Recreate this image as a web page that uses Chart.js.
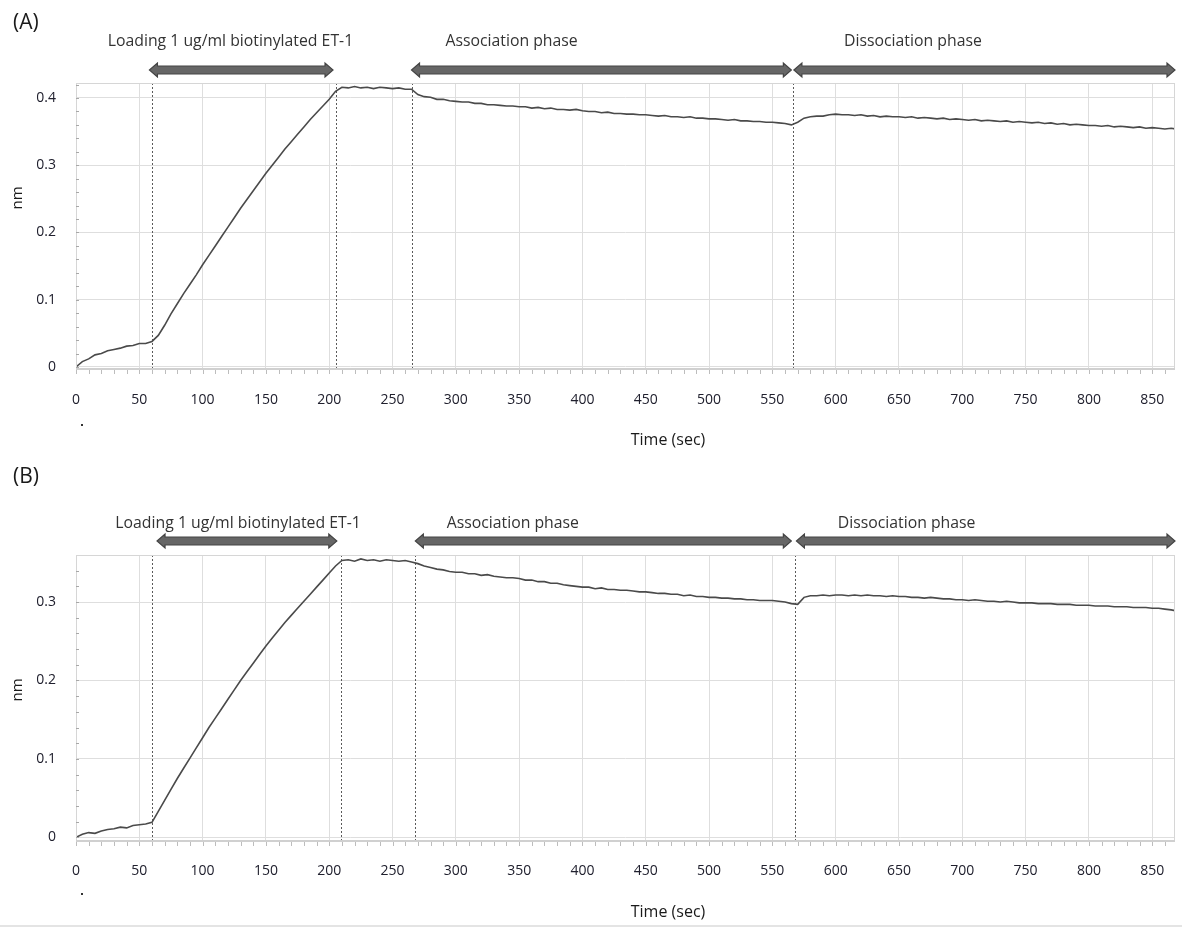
<!DOCTYPE html>
<html>
<head>
<meta charset="utf-8">
<script src="https://cdn.jsdelivr.net/npm/chart.js@4.4.1/dist/chart.umd.min.js"></script>
<style>
  html, body { margin: 0; padding: 0; background: #fff; }
  #page { position: relative; width: 1182px; height: 927px; overflow: hidden; }
  canvas { position: absolute; left: 0; }
  #chartA { top: 0; }
  #chartB { top: 463px; }
  #foot { position: absolute; left: 0; top: 925px; width: 1182px; height: 2px; background: #e4e4e4; }
</style>
</head>
<body>
<div id="page">
  <canvas id="chartA" width="1182" height="463"></canvas>
  <canvas id="chartB" width="1182" height="462"></canvas>
  <div id="foot"></div>
</div>
<script>
"use strict";

// time axis (sec), shared by both sensorgrams
const timeSec = [0,5,10,15,20,25,30,35,40,45,50,55,60,65,70,75,80,85,90,95,100,105,110,115,120,125,130,135,140,145,150,155,160,165,170,175,180,185,190,195,200,205,210,215,220,225,230,235,240,245,250,255,260,265,270,275,280,285,290,295,300,305,310,315,320,325,330,335,340,345,350,355,360,365,370,375,380,385,390,395,400,405,410,415,420,425,430,435,440,445,450,455,460,465,470,475,480,485,490,495,500,505,510,515,520,525,530,535,540,545,550,555,560,565,570,575,580,585,590,595,600,605,610,615,620,625,630,635,640,645,650,655,660,665,670,675,680,685,690,695,700,705,710,715,720,725,730,735,740,745,750,755,760,765,770,775,780,785,790,795,800,805,810,815,820,825,830,835,840,845,850,855,860,865,868];

// panel A response (nm)
const responseA = [
  0.000,0.008,0.012,0.018,0.020,0.024,0.026,0.028,0.031,0.032,0.035,0.035,0.038,
  0.047,0.062,0.079,0.094,0.109,0.123,0.137,0.152,0.166,0.180,0.194,0.208,0.222,0.236,0.249,0.262,0.275,0.288,
  0.300,0.312,0.324,0.335,0.346,0.357,0.368,0.378,0.388,0.398,0.410,
  0.416,0.415,0.417,0.415,0.416,0.414,0.416,0.415,0.414,0.415,0.413,0.413,
  0.405,0.402,0.401,0.398,0.398,0.396,0.395,0.394,0.394,0.392,0.392,0.390,0.390,0.389,0.388,0.388,
  0.387,0.387,0.385,0.386,0.384,0.385,0.383,0.383,0.382,0.383,0.381,0.380,0.380,0.378,0.379,0.377,
  0.377,0.376,0.376,0.375,0.375,0.374,0.373,0.374,0.372,0.372,0.371,0.372,0.370,0.370,0.369,0.369,
  0.368,0.367,0.368,0.366,0.366,0.365,0.365,0.364,0.364,0.363,0.362,0.360,
  0.364,0.370,0.372,0.373,0.373,0.375,0.376,0.375,0.375,0.374,0.375,0.373,0.374,0.372,0.373,0.372,
  0.372,0.371,0.372,0.370,0.371,0.370,0.369,0.370,0.368,0.369,0.368,0.367,0.368,0.366,0.367,0.366,
  0.365,0.366,0.364,0.365,0.364,0.363,0.364,0.362,0.363,0.361,0.362,0.360,0.361,0.360,0.359,0.359,
  0.358,0.359,0.357,0.358,0.357,0.356,0.357,0.355,0.356,0.355,0.354,0.355,0.354
];

// panel B response (nm)
const responseB = [
  0.000,0.004,0.006,0.005,0.008,0.010,0.011,0.013,0.012,0.015,0.016,0.017,0.019,
  0.033,0.047,0.061,0.075,0.088,0.101,0.114,0.127,0.140,0.152,0.164,0.176,0.188,0.200,0.211,0.222,0.233,0.244,
  0.254,0.264,0.274,0.283,0.292,0.301,0.310,0.319,0.328,0.337,0.346,
  0.353,0.354,0.352,0.355,0.353,0.354,0.352,0.354,0.353,0.352,0.353,0.351,
  0.349,0.346,0.344,0.342,0.341,0.339,0.338,0.338,0.336,0.336,0.334,0.335,0.333,0.332,0.331,0.331,
  0.330,0.328,0.328,0.326,0.326,0.324,0.324,0.322,0.321,0.320,0.319,0.319,0.317,0.318,0.316,0.316,
  0.315,0.315,0.314,0.313,0.313,0.312,0.311,0.311,0.310,0.310,0.308,0.309,0.307,0.307,0.306,0.306,
  0.305,0.305,0.304,0.304,0.303,0.303,0.302,0.302,0.302,0.301,0.300,0.298,
  0.297,0.306,0.308,0.308,0.309,0.308,0.309,0.309,0.308,0.309,0.308,0.309,0.308,0.308,0.307,0.308,
  0.307,0.307,0.306,0.306,0.305,0.306,0.305,0.304,0.304,0.303,0.303,0.302,0.303,0.302,0.301,0.301,
  0.300,0.301,0.300,0.299,0.299,0.299,0.298,0.298,0.298,0.297,0.297,0.297,0.296,0.296,0.296,0.295,
  0.295,0.295,0.294,0.294,0.294,0.293,0.293,0.293,0.292,0.292,0.291,0.290,0.289
];

// phase boundaries (sec) drawn as dotted lines
const phaseLinesA = [60, 205, 265, 566];
const phaseLinesB = [60, 209, 268, 568];

// phase labels and arrow spans (sec)
const phaseLabels = ["Loading 1 ug/ml biotinylated ET-1", "Association phase", "Dissociation phase"];
const labelCentersA = [122, 344, 661];
const labelCentersB = [128, 345, 656];
const arrowSpansA = [[58, 203], [265, 565], [567, 868]];
const arrowSpansB = [[64, 206], [268, 565], [569, 868]];

const FONT = "'Open Sans', 'Noto Sans', sans-serif";
const TICK_COLOR = "#20202e";
const TEXT_COLOR = "#333333";

function drawArrow(ctx, x1, x2, y) {
  const shaft = 4, head = 7, headLen = 8;
  ctx.beginPath();
  ctx.moveTo(x1, y);
  ctx.lineTo(x1 + headLen, y - head);
  ctx.lineTo(x1 + headLen, y - shaft);
  ctx.lineTo(x2 - headLen, y - shaft);
  ctx.lineTo(x2 - headLen, y - head);
  ctx.lineTo(x2, y);
  ctx.lineTo(x2 - headLen, y + head);
  ctx.lineTo(x2 - headLen, y + shaft);
  ctx.lineTo(x1 + headLen, y + shaft);
  ctx.lineTo(x1 + headLen, y + head);
  ctx.closePath();
  ctx.fillStyle = "#666666";
  ctx.fill();
  ctx.strokeStyle = "#444444";
  ctx.lineWidth = 1.2;
  ctx.stroke();
}

const panelDecor = {
  id: "panelDecor",
  beforeDatasetsDraw(chart, args, o) {
    const ctx = chart.ctx;
    const xs = chart.scales.x;
    const {top, bottom} = chart.chartArea;
    ctx.save();
    ctx.strokeStyle = "#5a5a5a";
    ctx.lineWidth = 1;
    ctx.setLineDash([2, 2]);
    o.phases.forEach((t) => {
      const x = Math.round(xs.getPixelForValue(t)) + 0.5;
      ctx.beginPath();
      ctx.moveTo(x, top);
      ctx.lineTo(x, bottom);
      ctx.stroke();
    });
    ctx.restore();
  },
  afterDraw(chart, args, o) {
    const ctx = chart.ctx;
    const xs = chart.scales.x;
    const ys = chart.scales.y;
    const {left, right, top, bottom} = chart.chartArea;
    ctx.save();

    // frame
    ctx.strokeStyle = "#d6d6d6";
    ctx.lineWidth = 1;
    ctx.strokeRect(left + 0.5, top + 0.5, right - left - 1, bottom - top - 1);
    ctx.strokeStyle = "#d0d0d0";
    ctx.lineWidth = 2;
    ctx.beginPath();
    ctx.moveTo(left, bottom - 1);
    ctx.lineTo(right, bottom - 1);
    ctx.stroke();

    // minor ticks
    ctx.lineWidth = 1;
    ctx.strokeStyle = "#bdbdbd";
    for (let t = 0; t <= xs.max; t += 10) {
      const x = Math.round(xs.getPixelForValue(t)) + 0.5;
      ctx.beginPath();
      ctx.moveTo(x, bottom);
      ctx.lineTo(x, bottom + 4);
      ctx.stroke();
    }
    ctx.strokeStyle = "#a8a8a8";
    for (let v = 0; v <= ys.max; v += 0.02) {
      const y = Math.round(ys.getPixelForValue(v)) + 0.5;
      ctx.beginPath();
      ctx.moveTo(left, y);
      ctx.lineTo(left + 3, y);
      ctx.stroke();
    }

    // panel letter
    ctx.fillStyle = "#1a1a1a";
    ctx.font = "21px " + FONT;
    ctx.textAlign = "left";
    ctx.textBaseline = "middle";
    ctx.fillText(o.letter, 13, o.letterY);

    // phase labels + arrows
    ctx.fillStyle = TEXT_COLOR;
    ctx.font = "15.8px " + FONT;
    ctx.textAlign = "center";
    phaseLabels.forEach((txt, i) => {
      ctx.fillText(txt, xs.getPixelForValue(o.labelCenters[i]), o.textY);
    });
    o.arrows.forEach(([a, b]) => {
      drawArrow(ctx, xs.getPixelForValue(a), Math.min(xs.getPixelForValue(b), right + 2), o.arrowY);
    });

    // axis titles
    ctx.fillStyle = "#1a1a1a";
    ctx.font = "16px " + FONT;
    ctx.fillText("Time (sec)", o.xTitle[0], o.xTitle[1]);
    ctx.font = "15px " + FONT;
    ctx.translate(o.yTitle[0], o.yTitle[1]);
    ctx.rotate(-Math.PI / 2);
    ctx.fillText("nm", 0, 0);
    ctx.setTransform(1, 0, 0, 1, 0, 0);

    // stray dot under the origin
    ctx.fillStyle = "#333";
    ctx.fillRect(81, o.dotY, 2, 2);
    ctx.restore();
  },
};

function makePanel(canvasId, values, yMin, yMax, opts) {
  const ctx = document.getElementById(canvasId).getContext("2d");
  const points = timeSec.map((t, i) => ({x: t, y: values[i]}));
  return new Chart(ctx, {
    type: "line",
    data: {
      datasets: [{
        data: points,
        borderColor: "#4a4a4a",
        borderWidth: 1.6,
        pointRadius: 0,
        tension: 0,
      }],
    },
    options: {
      responsive: false,
      animation: false,
      layout: {padding: {top: opts.padTop, right: 7, left: 0, bottom: 0}},
      plugins: {
        legend: {display: false},
        tooltip: {enabled: false},
        panelDecor: opts,
      },
      scales: {
        x: {
          type: "linear",
          min: 0,
          max: 868,
          border: {display: false},
          grid: {color: "#dedede", drawTicks: false},
          ticks: {
            stepSize: 50,
            includeBounds: false,
            autoSkip: false,
            maxRotation: 0,
            padding: opts.xTickPad,
            color: TICK_COLOR,
            font: {family: FONT, size: 14},
          },
          afterFit: (s) => {
            s.height = opts.xAxisH;
            s.paddingLeft = 0;
            s.paddingRight = 0;
          },
        },
        y: {
          min: yMin,
          max: yMax,
          border: {display: false},
          grid: {color: "#dedede", drawTicks: false},
          ticks: {
            stepSize: 0.1,
            includeBounds: false,
            padding: 20,
            color: TICK_COLOR,
            font: {family: FONT, size: 14},
            callback: (v) => String(Math.round(v * 10) / 10),
          },
          afterFit: (s) => {
            s.width = 76;
            s.paddingTop = 0;
            s.paddingBottom = 0;
          },
        },
      },
    },
    plugins: [panelDecor],
  });
}

makePanel("chartA", responseA, -0.0045, 0.4223, {
  padTop: 83, xAxisH: 93, xTickPad: 22,
  phases: phaseLinesA, labelCenters: labelCentersA, arrows: arrowSpansA,
  letter: "(A)", letterY: 23, textY: 41, arrowY: 70,
  xTitle: [668, 440], yTitle: [18, 198], dotY: 424,
});

makePanel("chartB", responseB, -0.006, 0.36, {
  padTop: 92, xAxisH: 83, xTickPad: 21,
  phases: phaseLinesB, labelCenters: labelCentersB, arrows: arrowSpansB,
  letter: "(B)", letterY: 14, textY: 60, arrowY: 78,
  xTitle: [668, 449], yTitle: [18, 227], dotY: 430,
});
</script>
</body>
</html>
